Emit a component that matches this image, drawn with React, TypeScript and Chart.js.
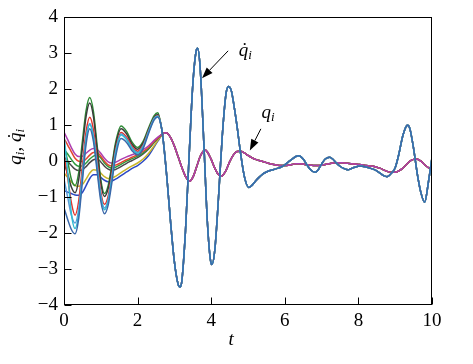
import React, { useEffect, useRef } from "react";
import { Chart, registerables } from "chart.js";

Chart.register(...registerables);

// ---------- data ----------
const xTicks = [0, 2, 4, 6, 8, 10];
const yTicks = [-4, -3, -2, -1, 0, 1, 2, 3, 4];

// early time grid (agents not yet synchronised)
const tEarly = [0, 0.1, 0.2, 0.3, 0.4, 0.5, 0.6, 0.7, 0.8, 0.9, 1.0, 1.1, 1.2, 1.3, 1.4, 1.55, 1.7, 1.85, 2.0, 2.15, 2.3, 2.45, 2.55];

// early q-dot values per agent
const dGreen = [0.45, 0.0, -0.5, -0.68, -0.32, 0.55, 1.41, 1.77, 1.38, 0.44, -0.51, -0.9, -0.68, -0.12, 0.51, 0.98, 0.83, 0.53, 0.38, 0.55, 0.93, 1.27, 1.35];
const dBlack = [-0.05, -0.35, -0.72, -0.88, -0.51, 0.37, 1.25, 1.62, 1.24, 0.32, -0.6, -0.98, -0.76, -0.2, 0.43, 0.9, 0.76, 0.47, 0.33, 0.5, 0.88, 1.22, 1.3];
const dRed = [0.2, -0.45, -1.15, -1.5, -1.1, -0.14, 0.82, 1.22, 0.87, 0.01, -0.85, -1.2, -0.97, -0.37, 0.3, 0.8, 0.67, 0.41, 0.28, 0.45, 0.85, 1.19, 1.27];
const dSky = [-0.5, -1.0, -1.5, -1.72, -1.33, -0.35, 0.65, 1.05, 0.7, -0.12, -0.95, -1.3, -1.07, -0.45, 0.25, 0.76, 0.62, 0.37, 0.24, 0.42, 0.83, 1.19, 1.26];
const dCyan = [0.75, -0.3, -1.45, -1.87, -1.45, -0.43, 0.6, 1.02, 0.67, -0.17, -1.0, -1.35, -1.11, -0.49, 0.21, 0.73, 0.6, 0.35, 0.22, 0.4, 0.81, 1.17, 1.25];
const dBlue = [-1.3, -1.62, -1.9, -2.02, -1.59, -0.56, 0.47, 0.9, 0.55, -0.28, -1.11, -1.46, -1.22, -0.6, 0.11, 0.63, 0.52, 0.29, 0.17, 0.35, 0.78, 1.15, 1.23];

// early q values per agent
const qMag = [0.81, 0.6, 0.38, 0.2, 0.13, 0.14, 0.22, 0.31, 0.35, 0.33, 0.22, 0.08, -0.02, -0.05, -0.03, 0.05, 0.12, 0.18, 0.24, 0.32, 0.43, 0.58, 0.67];
const qRed = [0.63, 0.45, 0.26, 0.08, 0.0, -0.01, 0.06, 0.17, 0.24, 0.24, 0.14, 0.0, -0.1, -0.13, -0.11, -0.04, 0.04, 0.11, 0.18, 0.27, 0.39, 0.55, 0.65];
const qGreen = [0.32, 0.2, 0.05, -0.08, -0.14, -0.13, -0.05, 0.06, 0.14, 0.17, 0.09, -0.05, -0.15, -0.19, -0.17, -0.09, 0.0, 0.07, 0.14, 0.23, 0.36, 0.53, 0.64];
const qBlack = [0.12, 0.0, -0.12, -0.22, -0.26, -0.24, -0.15, -0.04, 0.04, 0.06, -0.02, -0.14, -0.22, -0.25, -0.23, -0.15, -0.06, 0.02, 0.1, 0.2, 0.34, 0.52, 0.63];
const qYellow = [-0.33, -0.45, -0.58, -0.67, -0.7, -0.65, -0.5, -0.33, -0.24, -0.25, -0.33, -0.43, -0.48, -0.47, -0.42, -0.32, -0.22, -0.13, -0.05, 0.06, 0.22, 0.43, 0.58];
const qBlue = [-0.82, -0.86, -0.9, -0.94, -0.95, -0.87, -0.68, -0.48, -0.38, -0.38, -0.45, -0.53, -0.57, -0.55, -0.5, -0.4, -0.3, -0.2, -0.12, 0.0, 0.16, 0.4, 0.56];

// synchronised q-dot (common to all agents)
const tDotLate = [2.65, 2.7, 2.8, 2.9, 3.0, 3.1, 3.15, 3.2, 3.3, 3.4, 3.5, 3.6, 3.63, 3.7, 3.8, 3.9, 4.0, 4.02, 4.1, 4.2, 4.3, 4.4, 4.47, 4.55, 4.6, 4.7, 4.8, 4.9, 5.02, 5.1, 5.2, 5.3, 5.4, 5.5, 5.6, 5.7, 5.8, 5.9, 6.0, 6.1, 6.2, 6.3, 6.38, 6.5, 6.6, 6.7, 6.82, 6.9, 7.0, 7.1, 7.22, 7.3, 7.4, 7.5, 7.6, 7.72, 7.8, 7.9, 8.0, 8.1, 8.2, 8.3, 8.4, 8.5, 8.6, 8.7, 8.78, 8.9, 9.0, 9.1, 9.2, 9.3, 9.34, 9.4, 9.5, 9.6, 9.7, 9.8, 9.9, 10.0];
const qDotLate = [0.93, 0.55, -0.51, -1.74, -2.8, -3.42, -3.5, -3.35, -1.96, 0.15, 2.13, 3.1, 3.14, 2.6, 0.5, -1.76, -2.85, -2.87, -2.45, -0.99, 0.69, 1.86, 2.08, 1.95, 1.67, 0.99, 0.21, -0.42, -0.73, -0.68, -0.56, -0.45, -0.36, -0.3, -0.26, -0.23, -0.2, -0.16, -0.1, -0.02, 0.06, 0.13, 0.15, 0.06, -0.1, -0.24, -0.31, -0.25, -0.08, 0.06, 0.11, 0.06, -0.05, -0.14, -0.2, -0.24, -0.21, -0.17, -0.14, -0.14, -0.16, -0.19, -0.22, -0.27, -0.34, -0.41, -0.43, -0.33, -0.18, 0.2, 0.68, 0.97, 1.0, 0.9, 0.35, -0.35, -0.88, -1.14, -0.6, 0.1];

// synchronised q (common to all agents)
const tQLate = [2.7, 2.78, 2.9, 3.0, 3.1, 3.2, 3.3, 3.41, 3.5, 3.6, 3.7, 3.83, 3.9, 4.0, 4.1, 4.2, 4.27, 4.4, 4.5, 4.6, 4.7, 4.8, 4.9, 5.0, 5.1, 5.2, 5.3, 5.4, 5.5, 5.6, 5.7, 5.8, 5.9, 6.0, 6.1, 6.2, 6.3, 6.4, 6.5, 6.6, 6.7, 6.8, 6.9, 7.0, 7.1, 7.2, 7.3, 7.4, 7.5, 7.6, 7.7, 7.8, 7.9, 8.0, 8.1, 8.2, 8.3, 8.4, 8.5, 8.6, 8.7, 8.8, 8.9, 9.0, 9.1, 9.2, 9.3, 9.4, 9.5, 9.57, 9.7, 9.8, 9.9, 10.0];
const qLate = [0.77, 0.79, 0.65, 0.42, 0.13, -0.17, -0.42, -0.56, -0.45, -0.17, 0.13, 0.31, 0.25, 0.05, -0.2, -0.38, -0.42, -0.26, -0.02, 0.17, 0.27, 0.28, 0.23, 0.16, 0.1, 0.05, 0.02, -0.01, -0.04, -0.07, -0.09, -0.11, -0.12, -0.12, -0.11, -0.09, -0.07, -0.07, -0.08, -0.1, -0.11, -0.12, -0.12, -0.11, -0.09, -0.07, -0.05, -0.04, -0.04, -0.05, -0.06, -0.07, -0.08, -0.09, -0.1, -0.12, -0.13, -0.14, -0.17, -0.2, -0.25, -0.29, -0.31, -0.31, -0.27, -0.2, -0.1, 0.0, 0.05, 0.06, 0.0, -0.1, -0.18, -0.22];

// ---------- helpers ----------
function series(early: number[], tLate: number[], late: number[]) {
  const xs = tEarly.concat(tLate);
  const ys = early.concat(late);
  return xs.map((x, i) => ({ x, y: ys[i] }));
}

const SERIF = "Liberation Serif";

type Run = { t: string; size: number; italic?: boolean; dy?: number; dot?: boolean };

function drawRuns(ctx: CanvasRenderingContext2D, runs: Run[], x: number, y: number, align: "left" | "center") {
  const font = (r: Run) => `${r.italic ? "italic " : ""}${r.size}px "${SERIF}"`;
  let total = 0;
  const widths = runs.map((r) => {
    ctx.font = font(r);
    const w = ctx.measureText(r.t).width;
    total += w;
    return w;
  });
  let cx = align === "center" ? x - total / 2 : x;
  ctx.textBaseline = "alphabetic";
  ctx.textAlign = "left";
  runs.forEach((r, i) => {
    ctx.font = font(r);
    ctx.fillText(r.t, cx, y + (r.dy || 0));
    if (r.dot) {
      ctx.font = `${r.size}px "${SERIF}"`;
      ctx.textAlign = "center";
      ctx.fillText("\u02D9", cx + widths[i] * 0.62, y + (r.dy || 0));
      ctx.textAlign = "left";
    }
    cx += widths[i];
  });
}

function arrow(ctx: CanvasRenderingContext2D, x0: number, y0: number, x1: number, y1: number) {
  const ang = Math.atan2(y1 - y0, x1 - x0);
  const hl = 11, hw = 4;
  const bx = x1 - hl * Math.cos(ang), by = y1 - hl * Math.sin(ang);
  ctx.beginPath();
  ctx.moveTo(x0, y0);
  ctx.lineTo(bx, by);
  ctx.lineWidth = 1;
  ctx.strokeStyle = "#000";
  ctx.stroke();
  ctx.beginPath();
  ctx.moveTo(x1, y1);
  ctx.lineTo(bx + hw * Math.sin(ang), by - hw * Math.cos(ang));
  ctx.lineTo(bx - hw * Math.sin(ang), by + hw * Math.cos(ang));
  ctx.closePath();
  ctx.fillStyle = "#000";
  ctx.fill();
}

const overlay = {
  id: "overlay",
  afterDatasetsDraw(chart: any) {
    const { ctx, chartArea: a, scales } = chart;
    const xs = scales.x, ys = scales.y;
    ctx.save();
    ctx.strokeStyle = "#000";
    ctx.lineWidth = 1;
    const L = Math.round(a.left) + 0.5, R = Math.round(a.right) - 0.5;
    const T = Math.round(a.top) + 0.5, B = Math.round(a.bottom) - 0.5;
    ctx.strokeRect(L, T, R - L, B - T);
    ctx.beginPath();
    xTicks.forEach((v) => {
      const px = Math.round(xs.getPixelForValue(v)) + 0.5;
      ctx.moveTo(px, B);
      ctx.lineTo(px, B - 7);
    });
    yTicks.forEach((v) => {
      const py = Math.round(ys.getPixelForValue(v)) + 0.5;
      ctx.moveTo(L, py);
      ctx.lineTo(L + 7, py);
    });
    ctx.stroke();

    ctx.fillStyle = "#000";
    arrow(ctx, xs.getPixelForValue(4.46), ys.getPixelForValue(3.07), xs.getPixelForValue(3.75), ys.getPixelForValue(2.31));
    drawRuns(ctx, [
      { t: "q", size: 19, italic: true, dot: true },
      { t: "i", size: 13, italic: true, dy: 3 },
    ], xs.getPixelForValue(4.75), ys.getPixelForValue(2.94), "left");

    arrow(ctx, xs.getPixelForValue(5.35), ys.getPixelForValue(0.9), xs.getPixelForValue(5.05), ys.getPixelForValue(0.3));
    drawRuns(ctx, [
      { t: "q", size: 19, italic: true },
      { t: "i", size: 13, italic: true, dy: 3 },
    ], xs.getPixelForValue(5.37), ys.getPixelForValue(1.19), "left");

    drawRuns(ctx, [{ t: "t", size: 19, italic: true }], xs.getPixelForValue(4.54), 345, "center");

    ctx.save();
    ctx.translate(21, ys.getPixelForValue(0.4));
    ctx.rotate(-Math.PI / 2);
    drawRuns(ctx, [
      { t: "q", size: 19, italic: true },
      { t: "i", size: 13, italic: true, dy: 3 },
      { t: ",", size: 19, italic: true },
      { t: " ", size: 19 },
      { t: "q", size: 19, italic: true, dot: true },
      { t: "i", size: 13, italic: true, dy: 3 },
    ], 0, 0, "center");
    ctx.restore();

    ctx.restore();
  },
};

export default function App() {
  const ref = useRef<HTMLCanvasElement | null>(null);

  useEffect(() => {
    if (!ref.current) return;
    const ds = (label: string, early: number[], tl: number[], late: number[], color: string, width = 1.5) => ({
      label,
      data: series(early, tl, late),
      borderColor: color,
      backgroundColor: color,
      borderWidth: width,
      pointRadius: 0,
      cubicInterpolationMode: "monotone" as const,
      fill: false,
    });
    const chart = new Chart(ref.current, {
      type: "line",
      data: {
        datasets: [
          ds("qdot blue", dBlue, tDotLate, qDotLate, "#3a68aa"),
          ds("qdot cyan", dCyan, tDotLate, qDotLate, "#33bcd4"),
          ds("qdot sky", dSky, tDotLate, qDotLate, "#5a9ad8"),
          ds("qdot red", dRed, tDotLate, qDotLate, "#e2332a"),
          ds("qdot black", dBlack, tDotLate, qDotLate, "#3a3a3a"),
          ds("qdot green", dGreen, tDotLate, qDotLate, "#2d8a35"),
          ds("q magenta", qMag, tQLate, qLate, "#ad3fb0"),
          ds("q red", qRed, tQLate, qLate, "#e3452f"),
          ds("q green", qGreen, tQLate, qLate, "#2e9a3c"),
          ds("q black", qBlack, tQLate, qLate, "#4a4a4a"),
          ds("q yellow", qYellow, tQLate, qLate, "#c9b52a"),
          ds("q blue", qBlue, tQLate, qLate, "#2b48c4"),
        ],
      },
      options: {
        responsive: false,
        animation: false,
        devicePixelRatio: 1,
        layout: { padding: { left: 0, right: 41, top: 11, bottom: 0 } },
        plugins: { legend: { display: false }, tooltip: { enabled: false } },
        scales: {
          x: {
            type: "linear",
            min: 0,
            max: 10,
            grid: { display: false, drawTicks: false },
            border: { display: false },
            ticks: {
              stepSize: 2,
              padding: 5,
              color: "#000",
              maxRotation: 0,
              font: { family: `"${SERIF}"`, size: 19 },
            },
            afterFit: (s: any) => { s.height = 59; },
          },
          y: {
            type: "linear",
            min: -4,
            max: 4,
            grid: { display: false, drawTicks: false },
            border: { display: false },
            ticks: {
              stepSize: 1,
              padding: 6,
              color: "#000",
              font: { family: `"${SERIF}"`, size: 19 },
              callback: (v: any) => (Number(v) < 0 ? "\u2212" + Math.abs(Number(v)) : String(v)),
            },
            afterFit: (s: any) => { s.width = 64; },
          },
        },
      },
      plugins: [overlay],
    });
    return () => chart.destroy();
  }, []);

  return (
    <div style={{ position: "fixed", left: 0, top: 0, width: 473, height: 364, background: "#fff" }}>
      <canvas ref={ref} width={473} height={364} style={{ display: "block" }} />
    </div>
  );
}
